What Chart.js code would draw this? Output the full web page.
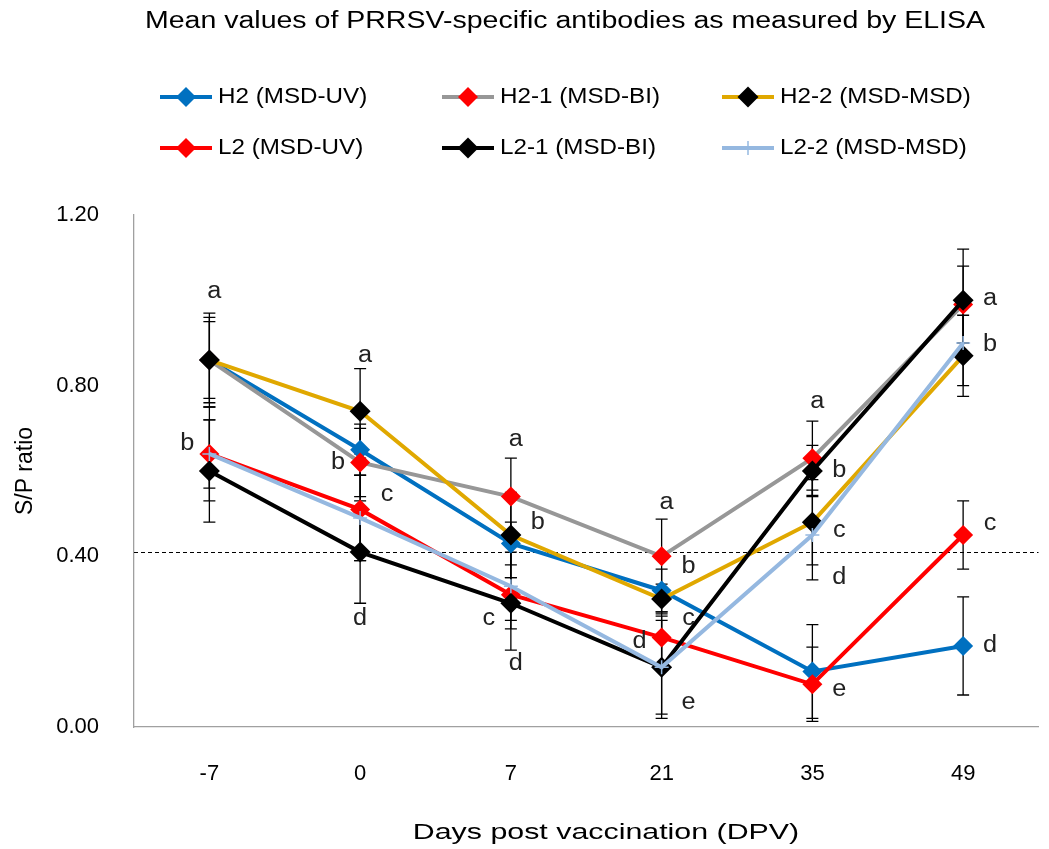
<!DOCTYPE html>
<html>
<head>
<meta charset="utf-8">
<script src="https://cdn.jsdelivr.net/npm/chart.js@4.4.0/dist/chart.umd.min.js"></script>
<style>
  html, body { margin: 0; padding: 0; background: #fff; }
  #wrap { width: 1049px; height: 849px; }
</style>
</head>
<body>
<div id="wrap"><canvas id="myChart" width="1049" height="849"></canvas></div>
<script>
// data
const categories = ["-7", "0", "7", "21", "35", "49"];
const yTicks = [0, 0.4, 0.8, 1.2];
const cutoff = 0.41;

const seriesNames = ["H2 (MSD-UV)", "H2-1 (MSD-BI)", "H2-2 (MSD-MSD)", "L2 (MSD-UV)", "L2-1 (MSD-BI)", "L2-2 (MSD-MSD)"];

const h2 = [0.86, 0.65, 0.43, 0.32, 0.13, 0.19];
const h2_1 = [0.86, 0.62, 0.54, 0.40, 0.63, 0.99];
const h2_2 = [0.86, 0.74, 0.45, 0.30, 0.48, 0.87];
const l2 = [0.64, 0.51, 0.31, 0.21, 0.10, 0.45];
const l2_1 = [0.60, 0.41, 0.29, 0.14, 0.60, 1.0];
const l2_2 = [0.64, 0.49, 0.33, 0.14, 0.45, 0.90];

// error bar half-lengths (S/P)
const h2Err = [0.10, 0.06, 0.05, 0.05, 0.11, 0.115];
const h2_1Err = [0.11, 0.08, 0.09, 0.087, 0.087, 0.09];
const h2_2Err = [0.09, 0.10, 0.10, 0.035, 0.10, 0.095];
const l2Err = [0.08, 0.12, 0.13, 0.06, 0.087, 0.08];
const l2_1Err = [0.12, 0.12, 0.06, 0.11, 0.06, 0.12];
const l2_2Err = [0.11, 0.10, 0.08, 0.12, 0.105, 0.10];

// significance letters: [category index, letter, y value, side]
const letters = [
  [0, "a", 1.02, "C"], [0, "b", 0.665, "L"],
  [1, "a", 0.87, "C"], [1, "b", 0.62, "L"], [1, "c", 0.545, "R"], [1, "d", 0.255, "B"],
  [2, "a", 0.673, "C"], [2, "b", 0.478, "R"], [2, "c", 0.253, "L"], [2, "d", 0.148, "C"],
  [3, "a", 0.525, "C"], [3, "b", 0.375, "R"], [3, "c", 0.253, "R"], [3, "d", 0.20, "L"], [3, "e", 0.056, "R"],
  [4, "a", 0.762, "C"], [4, "b", 0.60, "R"], [4, "c", 0.46, "R"], [4, "d", 0.35, "R"], [4, "e", 0.087, "R"],
  [5, "a", 1.005, "R"], [5, "b", 0.895, "R"], [5, "c", 0.476, "R"], [5, "d", 0.19, "R"],
];

const FONT = "'Liberation Sans', Arial, sans-serif";
const sideOffset = { C: 5, L: -22, R: 27, B: 0 };

// text a bit wider than the font, like the original export
function wideText(ctx, text, x, y, sx, align) {
  ctx.save();
  ctx.translate(x, y);
  ctx.scale(sx, 1);
  ctx.textAlign = align;
  ctx.textBaseline = "middle";
  ctx.fillText(text, 0, 0);
  ctx.restore();
}

function diamond(color, r) {
  return {
    pointStyle: "rectRot",
    pointRadius: r,
    pointHoverRadius: r,
    pointBackgroundColor: color,
    pointBorderColor: color,
    pointBorderWidth: 0,
  };
}

const datasets = [
  { label: seriesNames[0], data: h2, err: h2Err, borderColor: "#0070C0", ...diamond("#0070C0", 10), order: 6 },
  { label: seriesNames[1], data: h2_1, err: h2_1Err, borderColor: "#979797", ...diamond("#FF0000", 10), order: 5 },
  { label: seriesNames[2], data: h2_2, err: h2_2Err, borderColor: "#E0A800", ...diamond("#000000", 10.5), order: 4 },
  { label: seriesNames[3], data: l2, err: l2Err, borderColor: "#FF0000", ...diamond("#FF0000", 10), order: 3 },
  { label: seriesNames[4], data: l2_1, err: l2_1Err, borderColor: "#000000", ...diamond("#000000", 10.5), order: 2 },
  {
    label: seriesNames[5], data: l2_2, err: l2_2Err, borderColor: "#95B8E0",
    pointStyle: "cross", pointRadius: 7, pointHoverRadius: 7,
    pointBorderColor: "#95B8E0", pointBorderWidth: 1.5, order: 1,
  },
];
datasets.forEach((d) => {
  d.borderWidth = 4;
  d.tension = 0;
  d.fill = false;
});

// error bars, cutoff line, letters, title and legend
const extras = {
  id: "extras",
  beforeDatasetsDraw(chart) {
    const { ctx, chartArea } = chart;
    const x = chart.scales.x;
    const y = chart.scales.y;

    // dashed cutoff
    const cy = Math.round(y.getPixelForValue(cutoff)) + 0.5;
    ctx.save();
    ctx.strokeStyle = "#000";
    ctx.lineWidth = 1;
    ctx.setLineDash([4, 3]);
    ctx.beginPath();
    ctx.moveTo(chartArea.left, cy);
    ctx.lineTo(chartArea.right, cy);
    ctx.stroke();
    ctx.restore();

    ctx.save();
    ctx.strokeStyle = "#000";
    ctx.lineWidth = 1.3;
    chart.data.datasets.forEach((ds) => {
      ds.data.forEach((v, i) => {
        const px = x.getPixelForValue(i);
        const top = y.getPixelForValue(v + ds.err[i]);
        const bot = y.getPixelForValue(v - ds.err[i]);
        ctx.beginPath();
        ctx.moveTo(px, top);
        ctx.lineTo(px, bot);
        ctx.moveTo(px - 6, top);
        ctx.lineTo(px + 6, top);
        ctx.moveTo(px - 6, bot);
        ctx.lineTo(px + 6, bot);
        ctx.stroke();
      });
    });
    ctx.restore();
  },
  afterDatasetsDraw(chart) {
    const { ctx } = chart;
    const x = chart.scales.x;
    const y = chart.scales.y;
    ctx.save();
    ctx.fillStyle = "#222";
    ctx.font = "23px " + FONT;
    letters.forEach(([c, t, v, side]) => {
      wideText(ctx, t, x.getPixelForValue(c) + sideOffset[side], y.getPixelForValue(v), 1.1, "center");
    });
    ctx.restore();
  },
  afterDraw(chart) {
    const { ctx, chartArea } = chart;
    ctx.save();
    ctx.fillStyle = "#000";

    // chart title
    ctx.font = "23px " + FONT;
    wideText(ctx, "Mean values of PRRSV-specific antibodies as measured by ELISA", 565, 22, 1.24, "center");

    // x axis title
    ctx.font = "22px " + FONT;
    wideText(ctx, "Days post vaccination (DPV)", 606, chartArea.bottom + 106, 1.38, "center");

    // legend, 3 columns x 2 rows
    const cols = [160, 442, 722];
    const rows = [97, 148];
    chart.data.datasets.forEach((ds, i) => {
      const lx = cols[i % 3];
      const ly = rows[Math.floor(i / 3)];
      ctx.strokeStyle = ds.borderColor;
      ctx.lineWidth = 4;
      ctx.beginPath();
      ctx.moveTo(lx, ly);
      ctx.lineTo(lx + 52, ly);
      ctx.stroke();
      const mx = lx + 26;
      if (ds.pointStyle === "rectRot") {
        const r = ds.pointRadius;
        ctx.fillStyle = ds.pointBackgroundColor;
        ctx.beginPath();
        ctx.moveTo(mx, ly - r);
        ctx.lineTo(mx + r, ly);
        ctx.lineTo(mx, ly + r);
        ctx.lineTo(mx - r, ly);
        ctx.closePath();
        ctx.fill();
      } else {
        ctx.strokeStyle = ds.pointBorderColor;
        ctx.lineWidth = 1.5;
        ctx.beginPath();
        ctx.moveTo(mx, ly - 7);
        ctx.lineTo(mx, ly + 7);
        ctx.stroke();
      }
      ctx.fillStyle = "#000";
      ctx.font = "22px " + FONT;
      wideText(ctx, ds.label, lx + 58, ly, 1.1, "left");
    });
    ctx.restore();
  },
};

new Chart(document.getElementById("myChart"), {
  type: "line",
  data: { labels: categories, datasets },
  options: {
    responsive: false,
    animation: false,
    layout: { padding: { top: 215, right: 0, bottom: 0, left: 0 } },
    plugins: {
      legend: { display: false },
      tooltip: { enabled: false },
      title: { display: false },
    },
    scales: {
      x: {
        offset: true,
        grid: { display: false, drawTicks: false },
        border: { display: true, color: "#a0a0a0", width: 1.3 },
        ticks: { color: "#000", padding: 34, font: { size: 22, family: FONT } },
        afterFit(scale) {
          scale.height = 122;
        },
      },
      y: {
        min: 0,
        max: 1.2,
        afterBuildTicks(scale) {
          scale.ticks = yTicks.map((v) => ({ value: v }));
        },
        grid: { display: false, drawTicks: false },
        border: { display: true, color: "#a0a0a0", width: 1.3 },
        ticks: {
          color: "#000",
          padding: 35,
          font: { size: 22, family: FONT },
          callback(value) {
            return Number(value).toFixed(2);
          },
        },
        title: {
          display: true,
          text: "S/P ratio",
          color: "#000",
          font: { size: 23, family: FONT },
          padding: { top: 12, bottom: 0 },
        },
        afterFit(scale) {
          scale.width = 134;
        },
      },
    },
  },
  plugins: [extras],
});
</script>
</body>
</html>
